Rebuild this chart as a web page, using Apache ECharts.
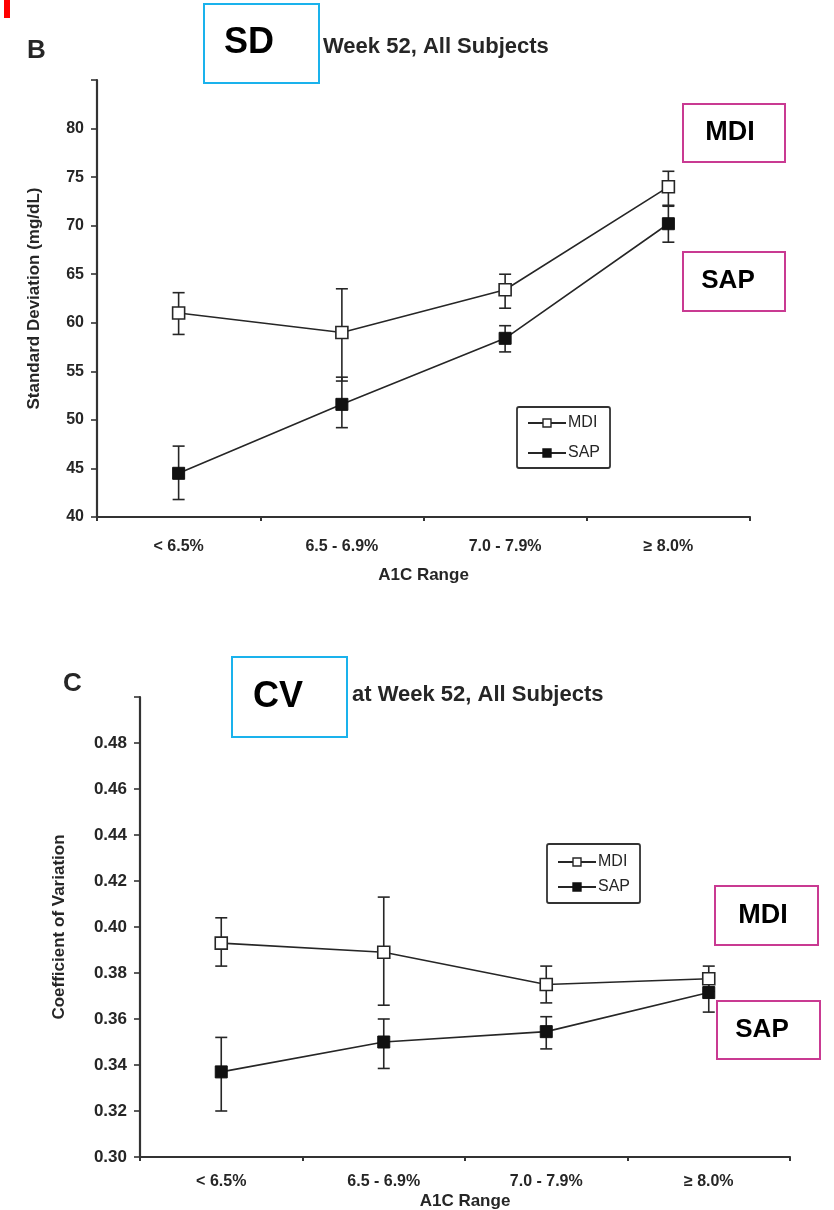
<!DOCTYPE html>
<html>
<head>
<meta charset="utf-8">
<script src="https://cdn.jsdelivr.net/npm/echarts@6/dist/echarts.min.js"></script>
<style>
  html, body { margin: 0; padding: 0; background: #fff; }
  #chart { width: 834px; height: 1210px; }
</style>
</head>
<body>
<div id="chart"></div>
<script>
// A1C ranges on the x axis
const categories = ['< 6.5%', '6.5 - 6.9%', '7.0 - 7.9%', '≥ 8.0%']

// panel B: standard deviation (mg/dL)
const sdMdi = [61.0, 59.0, 63.4, 74.0]
const sdMdiLow = [58.8, 54.0, 61.5, 72.1]
const sdMdiHigh = [63.1, 63.5, 65.0, 75.6]
const sdSap = [44.5, 51.6, 58.4, 70.2]
const sdSapLow = [41.8, 49.2, 57.0, 68.3]
const sdSapHigh = [47.3, 54.4, 59.7, 72.0]

// panel C: coefficient of variation
const cvMdi = [0.393, 0.389, 0.375, 0.3775]
const cvMdiLow = [0.383, 0.366, 0.367, 0.372]
const cvMdiHigh = [0.404, 0.413, 0.383, 0.383]
const cvSap = [0.337, 0.35, 0.3545, 0.3715]
const cvSapLow = [0.32, 0.3385, 0.347, 0.363]
const cvSapHigh = [0.352, 0.36, 0.361, 0.376]

const ink = '#262626'
const font = 'Liberation Sans'

const toBars = (low, high) => categories.map((c, i) => [i, low[i], high[i]])

// vertical error bar with caps
const renderErrorBar = (params, api) => {
  const x = api.value(0)
  const lo = api.coord([x, api.value(1)])
  const hi = api.coord([x, api.value(2)])
  const w = 6
  const style = { stroke: ink, lineWidth: 1.6 }
  return {
    type: 'group',
    children: [
      { type: 'line', shape: { x1: lo[0], y1: lo[1], x2: hi[0], y2: hi[1] }, style },
      { type: 'line', shape: { x1: hi[0] - w, y1: hi[1], x2: hi[0] + w, y2: hi[1] }, style },
      { type: 'line', shape: { x1: lo[0] - w, y1: lo[1], x2: lo[0] + w, y2: lo[1] }, style },
    ],
  }
}

const errorSeries = (idx, low, high) => ({
  type: 'custom',
  xAxisIndex: idx,
  yAxisIndex: idx,
  renderItem: renderErrorBar,
  encode: { x: 0, y: [1, 2] },
  data: toBars(low, high),
  z: 2,
  silent: true,
})

const lineSeries = (idx, name, values, hollow) => ({
  type: 'line',
  name,
  xAxisIndex: idx,
  yAxisIndex: idx,
  data: values,
  symbol: 'rect',
  symbolSize: 12,
  z: 3,
  lineStyle: { color: ink, width: 1.6 },
  itemStyle: hollow
    ? { color: '#fff', borderColor: ink, borderWidth: 1.6 }
    : { color: '#111', borderColor: '#111', borderWidth: 1 },
})

const xAxis = (idx, labelMargin, nameGap) => ({
  type: 'category',
  gridIndex: idx,
  data: categories,
  boundaryGap: true,
  axisLine: { lineStyle: { color: '#333', width: 2.2 } },
  axisTick: { show: true, length: 4, inside: false, lineStyle: { color: '#333', width: 2 } },
  axisLabel: { color: ink, fontFamily: font, fontWeight: 'bold', fontSize: 16, margin: labelMargin },
  name: 'A1C Range',
  nameLocation: 'middle',
  nameGap,
  nameTextStyle: { color: ink, fontFamily: font, fontWeight: 'bold', fontSize: 17 },
  splitLine: { show: false },
})

const yAxis = (idx, name, min, max, interval, fmt, nameGap, labelSize) => ({
  type: 'value',
  gridIndex: idx,
  min,
  max,
  interval,
  name,
  nameLocation: 'middle',
  nameGap,
  nameTextStyle: { color: ink, fontFamily: font, fontWeight: 'bold', fontSize: 17 },
  axisLine: { show: true, lineStyle: { color: '#333', width: 2.2 } },
  axisTick: { show: true, length: 6, lineStyle: { color: '#333', width: 1.6 } },
  axisLabel: {
    color: ink,
    fontFamily: font,
    fontWeight: 'bold',
    fontSize: labelSize,
    margin: 13,
    formatter: (v) => (Math.abs(v - max) < 1e-9 ? '' : fmt(v)),
  },
  splitLine: { show: false },
})

const legend = (left, top, padding, itemGap) => ({
  data: ['MDI', 'SAP'],
  orient: 'vertical',
  left,
  top,
  padding,
  itemGap,
  itemWidth: 38,
  itemHeight: 10,
  itemStyle: { borderWidth: 1.4 },
  borderColor: '#333',
  borderWidth: 1.8,
  borderRadius: 2,
  selectedMode: false,
  textStyle: { color: ink, fontFamily: font, fontSize: 16, padding: [0, 0, 0, -3] },
})

const labelBox = (x, y, w, h, color, text, tx, ty, size) => [
  { type: 'rect', shape: { x, y, width: w, height: h }, style: { fill: '#fff', stroke: color, lineWidth: 2 } },
  {
    type: 'text',
    style: {
      text, x: tx, y: ty, align: 'center', verticalAlign: 'middle',
      fill: '#000', fontFamily: font, fontWeight: 'bold', fontSize: size,
    },
  },
]

const titleText = (text, x, y, size) => ({
  type: 'text',
  style: {
    text, x, y, align: 'left', verticalAlign: 'middle',
    fill: ink, fontFamily: font, fontWeight: 'bold', fontSize: size,
  },
})

const option = {
  backgroundColor: '#fff',
  animation: false,
  grid: [
    { left: 97, top: 80, width: 653, height: 437, outerBoundsMode: 'none' },
    { left: 140, top: 697, width: 650, height: 460, outerBoundsMode: 'none' },
  ],
  xAxis: [xAxis(0, 22, 50), xAxis(1, 17, 36)],
  yAxis: [
    yAxis(0, 'Standard Deviation (mg/dL)', 40, 85, 5, (v) => String(v), 54, 16),
    yAxis(1, 'Coefficient of Variation', 0.3, 0.5, 0.02, (v) => v.toFixed(2), 72, 17),
  ],
  legend: [legend(517, 407, [8, 10, 7, 10], 14), legend(547, 844, [10, 10, 8, 10], 9)],
  series: [
    errorSeries(0, sdMdiLow, sdMdiHigh),
    errorSeries(0, sdSapLow, sdSapHigh),
    lineSeries(0, 'MDI', sdMdi, true),
    lineSeries(0, 'SAP', sdSap, false),
    errorSeries(1, cvMdiLow, cvMdiHigh),
    errorSeries(1, cvSapLow, cvSapHigh),
    lineSeries(1, 'MDI', cvMdi, true),
    lineSeries(1, 'SAP', cvSap, false),
  ],
  graphic: [
    { type: 'rect', shape: { x: 4, y: 0, width: 6, height: 18 }, style: { fill: '#ff0000' } },
    titleText('B', 27, 51, 26),
    titleText('Week 52, All Subjects', 323, 47, 22),
    ...labelBox(204, 4, 115, 79, '#1ab2ec', 'SD', 249, 43, 36),
    ...labelBox(683, 104, 102, 58, '#c93a92', 'MDI', 730, 133, 27),
    ...labelBox(683, 252, 102, 59, '#c93a92', 'SAP', 728, 281, 26),
    titleText('C', 63, 684, 26),
    titleText('at Week 52, All Subjects', 352, 695, 22),
    ...labelBox(232, 657, 115, 80, '#1ab2ec', 'CV', 278, 697, 36),
    ...labelBox(715, 886, 103, 59, '#c93a92', 'MDI', 763, 916, 27),
    ...labelBox(717, 1001, 103, 58, '#c93a92', 'SAP', 762, 1030, 26),
  ],
}

const chart = echarts.init(document.getElementById('chart'))
chart.setOption(option)
</script>
</body>
</html>
